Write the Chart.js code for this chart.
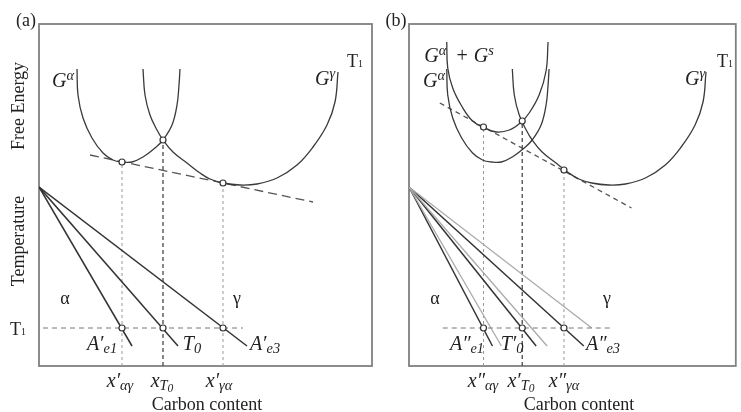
<!DOCTYPE html>
<html>
<head>
<meta charset="utf-8">
<script src="https://cdn.jsdelivr.net/npm/chart.js@4.4.1/dist/chart.umd.min.js"></script>
<style>
    html, body { margin: 0; padding: 0; background: #fff; }
    #wrap { position: relative; width: 741px; height: 412px; overflow: hidden; }
    #wrap canvas { position: absolute; left: 0; top: 0; }
    .lb {
        position: absolute;
        transform: translate(-50%, -50%);
        font-family: "Liberation Serif", "DejaVu Serif", serif;
        font-size: 18px;
        color: #222;
        white-space: nowrap;
        line-height: 1;
    }
    .m { font-style: italic; font-size: 20px; }
    .rot { transform: translate(-50%, -50%) rotate(-90deg); }
    .lb sup, .lb sub { font-size: 0.72em; line-height: 0; }
    .lb sup { vertical-align: 0.5em; }
    .lb sub { vertical-align: -0.22em; }
    .lb sub sub { font-size: 0.8em; vertical-align: -0.15em; }
    .lb .t1 { font-size: 0.55em; }
</style>
</head>
<body>
<div id="wrap">
    <canvas id="chart-a" width="741" height="412"></canvas>
    <canvas id="chart-b" width="741" height="412"></canvas>
</div>
<script>
// === data (arbitrary units: carbon content →, free energy / temperature ↑) ===
// free energy curves, shared by both panels
const gAlpha = [[38, 297], [39, 271], [44, 248], [53, 228], [64, 213], [74, 206], [83, 204], [93, 204],
    [104, 209], [116, 218], [124, 226], [133, 241], [138, 261], [140, 281], [141, 297]];
const gGamma = [[104, 297], [106, 271], [111, 251], [118, 236], [124, 226], [134, 214], [148, 203], [161, 193],
    [171, 187], [184, 183], [201, 181], [218, 182], [238, 188], [258, 201], [274, 219], [288, 241], [296, 264], [299, 294]];
// G^alpha + G^s (panel b only)
const gAlphaS = [[38, 324], [39, 298], [44, 278], [53, 260], [64, 245], [76, 238], [88, 234], [101, 236],
    [113, 244], [121, 253], [131, 271], [138, 295], [140, 324]];

// common tangents
const tangentA = [[51, 211], [274, 164]];
const tangentB = [[31, 263], [224, 158]];

// points on the free energy curves (x'αγ, xT0, x'γα)
const pointsA = [[83, 204], [124, 226], [184, 183]];
const pointsB = [[75, 239], [114, 245], [156, 196]];

// temperature T1
const t1 = 38;
const t1LineA = [[4, t1], [204, t1]];
const t1LineB = [[34, t1], [204, t1]];

// phase boundaries, panel a
const ae1A = [[0, 179], [93, 20]];
const t0A = [[0, 179], [139, 20]];
const ae3A = [[0, 179], [208, 20]];
// phase boundaries, panel b
const ae1B = [[0, 179], [84, 20]];
const t0B = [[0, 179], [128, 20]];
const ae3B = [[0, 179], [176, 20]];
const ae3Old = [[0, 179], [184, 38]];

// === helpers ===
function pts(arr) {
    return arr.map(([x, y]) => ({ x: x, y: y }));
}

function line(arr, color, width, dash, smooth) {
    return {
        data: pts(arr),
        showLine: true,
        borderColor: color,
        borderWidth: width,
        borderDash: dash || [],
        pointRadius: 0,
        fill: false,
        tension: smooth ? 0.4 : 0,
        order: 2,
    };
}

function markers(arr) {
    return {
        data: pts(arr),
        showLine: false,
        pointRadius: 3,
        pointBackgroundColor: '#fff',
        pointBorderColor: '#333',
        pointBorderWidth: 1.2,
        order: 0,
    };
}

function verticals(arr, out) {
    arr.forEach(([x, y], i) => {
        const mid = i === 1;
        out.push(line([[x, 0], [x, y]], mid ? '#555' : '#999', mid ? 1.4 : 1, mid ? [4, 3] : [3, 3]));
    });
}

// box round the plot area
const boxPlugin = {
    id: 'box',
    beforeDatasetsDraw(chart) {
        const a = chart.chartArea;
        const ctx = chart.ctx;
        ctx.save();
        ctx.strokeStyle = '#808080';
        ctx.lineWidth = 1.8;
        ctx.strokeRect(a.left, a.top, a.right - a.left, a.bottom - a.top);
        ctx.restore();
    }
};

function makePanel(id, padLeft, padRight, xMax, datasets) {
    return new Chart(document.getElementById(id), {
        type: 'scatter',
        data: { datasets: datasets },
        options: {
            responsive: false,
            animation: false,
            devicePixelRatio: 1,
            layout: { padding: { left: padLeft, right: padRight, top: 24, bottom: 46 } },
            plugins: { legend: { display: false }, tooltip: { enabled: false } },
            scales: {
                x: { type: 'linear', min: 0, max: xMax, display: false },
                y: { type: 'linear', min: 0, max: 342, display: false },
            },
        },
        plugins: [boxPlugin],
    });
}

// === panel (a) ===
const dsA = [
    markers(pointsA),
    markers(pointsA.map(([x]) => [x, t1])),
    line(gAlpha, '#3a3a3a', 1.3, null, true),
    line(gGamma, '#3a3a3a', 1.3, null, true),
    line(tangentA, '#555', 1.3, [9, 5]),
    line(t1LineA, '#777', 1, [5, 4]),
    line(ae1A, '#333', 1.5),
    line(t0A, '#333', 1.5),
    line(ae3A, '#333', 1.5),
];
verticals(pointsA, dsA);
makePanel('chart-a', 39, 741 - 372, 333, dsA);

// === panel (b) ===
const dsB = [
    markers(pointsB),
    markers(pointsB.map(([x]) => [x, t1])),
    line(gAlphaS, '#3a3a3a', 1.3, null, true),
    line(gAlpha, '#3a3a3a', 1.3, null, true),
    line(gGamma, '#3a3a3a', 1.3, null, true),
    line(tangentB, '#555', 1.3, [5, 4]),
    line(t1LineB, '#777', 1, [5, 4]),
    line(ae1A, '#aaa', 1.3),
    line(t0A, '#aaa', 1.3),
    line(ae3Old, '#aaa', 1.3),
    line(ae1B, '#333', 1.5),
    line(t0B, '#333', 1.5),
    line(ae3B, '#333', 1.5),
];
verticals(pointsB, dsB);
makePanel('chart-b', 409, 741 - 738, 329, dsB);

// === text labels ===
const labels = [
    ['(a)', 26, 20, ''],
    ['Free Energy', 18, 106, 'rot'],
    ['Temperature', 18, 241, 'rot'],
    ['T<span class="t1">1</span>', 18, 329, ''],
    ['T<span class="t1">1</span>', 355, 61, ''],
    ['G<sup>α</sup>', 63, 80, 'm'],
    ['G<sup>γ</sup>', 325, 78, 'm'],
    ['α', 65, 298, ''],
    ['γ', 237, 298, ''],
    ['A′<sub>e1</sub>', 102, 343, 'm'],
    ['T<sub>0</sub>', 192, 343, 'm'],
    ['A′<sub>e3</sub>', 265, 343, 'm'],
    ['x′<sub>αγ</sub>', 120, 380, 'm'],
    ['x<sub>T<sub>0</sub></sub>', 162, 380, 'm'],
    ['x′<sub>γα</sub>', 219, 380, 'm'],
    ['Carbon content', 207, 404, ''],

    ['(b)', 396, 20, ''],
    ['G<sup>α</sup>&#8201; + G<sup>s</sup>', 459, 55, 'm'],
    ['G<sup>α</sup>', 434, 80, 'm'],
    ['T<span class="t1">1</span>', 725, 61, ''],
    ['G<sup>γ</sup>', 695, 78, 'm'],
    ['α', 435, 298, ''],
    ['γ', 607, 298, ''],
    ['A″<sub>e1</sub>', 467, 343, 'm'],
    ['T′<sub>0</sub>', 512, 343, 'm'],
    ['A″<sub>e3</sub>', 603, 343, 'm'],
    ['x″<sub>αγ</sub>', 483, 380, 'm'],
    ['x′<sub>T<sub>0</sub></sub>', 521, 380, 'm'],
    ['x″<sub>γα</sub>', 564, 380, 'm'],
    ['Carbon content', 579, 404, ''],
];

const wrap = document.getElementById('wrap');
labels.forEach(([html, x, y, cls]) => {
    const el = document.createElement('div');
    el.className = 'lb ' + cls;
    el.innerHTML = html;
    el.style.left = x + 'px';
    el.style.top = y + 'px';
    wrap.appendChild(el);
});
</script>
</body>
</html>
